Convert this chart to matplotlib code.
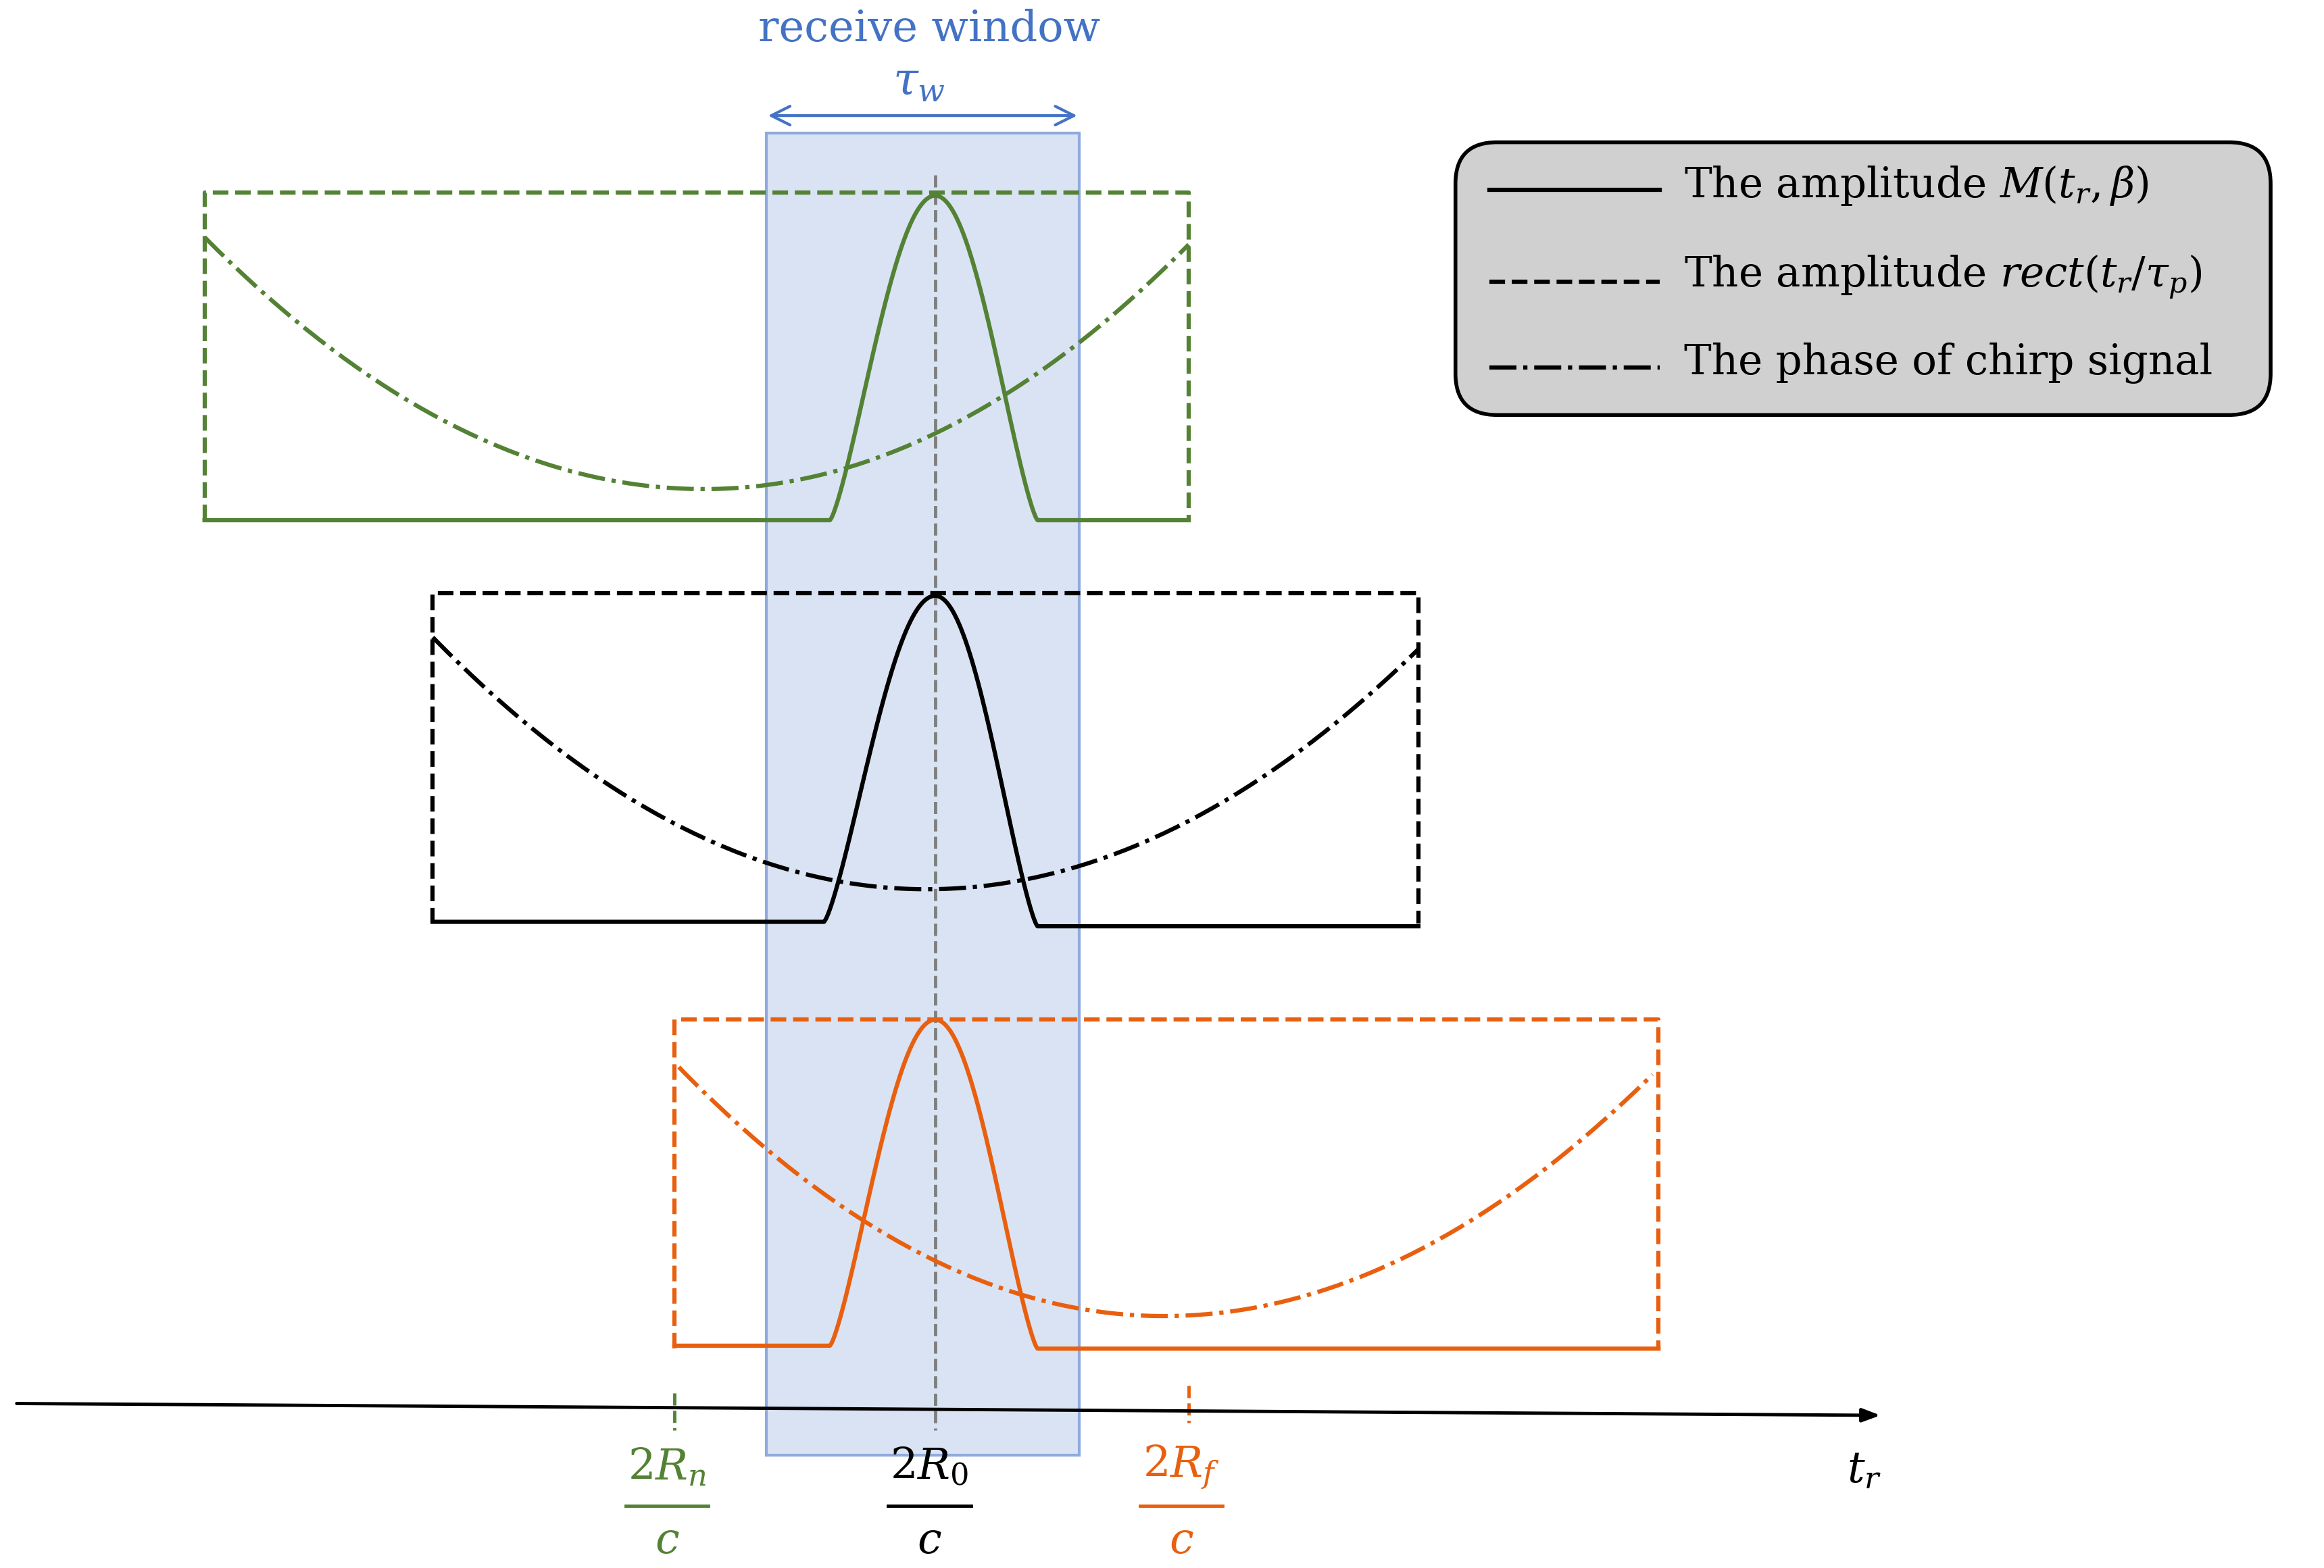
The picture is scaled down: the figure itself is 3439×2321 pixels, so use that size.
import matplotlib.pyplot as plt
import numpy as np
from matplotlib.patches import Rectangle, FancyBboxPatch

plt.rcParams['font.family'] = ['DejaVu Serif']
plt.rcParams['mathtext.fontset'] = 'dejavuserif'

# coordinates in image units (1568 x 1058 canvas, y downwards)
green = '#548235'
black = '#000000'
orange = '#e8600f'
blue = '#4472c4'

# each echo: colour, rect (x0, x1, ytop, ybottom), pulse points, phase points (left, min, right)
echo_colors = [green, black, orange]
rect_x0 = [138, 292, 455]
rect_x1 = [802, 957, 1119]
rect_top = [130, 400, 688]
rect_bot = [351, 623, 910]
base_left_y = [351, 622, 908]
base_right_y = [351, 625, 910]
pulse_start = [560, 556, 560]
pulse_end = [700, 700, 700]
pulse_peak_y = [132, 402, 688]
phase_left = [(138, 160), (292, 430), (458, 720)]
phase_min = [(475, 330), (625, 600), (785, 888)]
phase_right = [(802, 165), (957, 438), (1115, 725)]

peak_x = 631
window_x = (517, 728)
window_y = (90, 982)

legend_labels = [r'The amplitude $M(t_r,\beta)$',
                 r'The amplitude $rect(t_r/\tau_p)$',
                 'The phase of chirp signal']
legend_styles = ['-', '--', '-.']
legend_y = [128, 190, 248]

fig = plt.figure(figsize=(34.39, 23.21), dpi=100)
ax = fig.add_axes([0, 0, 1, 1])
ax.set_xlim(0, 1568)
ax.set_ylim(1058, 0)
ax.axis('off')

lw = 4.5

# receive window
ax.add_patch(Rectangle((window_x[0], window_y[0]), window_x[1] - window_x[0],
                       window_y[1] - window_y[0], facecolor='#dae3f3',
                       edgecolor='#8faadc', lw=3, zorder=1))
ax.annotate('', xy=(window_x[0], 78), xytext=(window_x[1], 78),
            arrowprops=dict(arrowstyle='<->,head_length=2,head_width=1', color=blue, lw=3))
ax.text(627, 20, 'receive window', color=blue, fontsize=46, ha='center', va='center')
ax.text(620, 55, r'$\tau_w$', color=blue, fontsize=48, ha='center', va='center')

for i, c in enumerate(echo_colors):
    x0, x1, yt, yb = rect_x0[i], rect_x1[i], rect_top[i], rect_bot[i]
    ax.plot([x0, x0, x1, x1], [yb, yt, yt, yb], ls='--', color=c, lw=lw, zorder=3)
    # pulse
    t = np.linspace(0, 1, 60)
    xs_up = pulse_start[i] + (peak_x - pulse_start[i]) * t
    ys_up = base_left_y[i] - (base_left_y[i] - pulse_peak_y[i]) * np.sin(t * np.pi / 2) ** 1.3
    xs_dn = peak_x + (pulse_end[i] - peak_x) * t
    ys_dn = base_right_y[i] - (base_right_y[i] - pulse_peak_y[i]) * np.cos(t * np.pi / 2) ** 1.3
    xs = np.concatenate([[x0], xs_up, xs_dn, [x1]])
    ys = np.concatenate([[base_left_y[i]], ys_up, ys_dn, [base_right_y[i]]])
    ax.plot(xs, ys, '-', color=c, lw=lw, zorder=3)
    # phase
    (lx, ly), (mx, my), (rx, ry) = phase_left[i], phase_min[i], phase_right[i]
    xl = np.linspace(lx, mx, 80)
    yl = my - (my - ly) * ((mx - xl) / (mx - lx)) ** 2
    xr = np.linspace(mx, rx, 80)
    yr = my - (my - ry) * ((xr - mx) / (rx - mx)) ** 2
    ax.plot(np.concatenate([xl, xr]), np.concatenate([yl, yr]), '-.', color=c, lw=lw, zorder=3)

ax.plot([peak_x, peak_x], [118, 965], '--', color='#7f7f7f', lw=3.5, zorder=2)

# time axis
ax.annotate('', xy=(1270, 955), xytext=(10, 947),
            arrowprops=dict(arrowstyle='-|>,head_length=1.6,head_width=0.6', color='black', lw=3.5))
ax.plot([455, 455], [940, 965], '--', color=green, lw=3.5)
ax.plot([802, 802], [935, 960], '--', color=orange, lw=3.5)
ax.text(1258, 992, r'$t_r$', fontsize=46, ha='center', va='center')

fracs = [(450, r'$2R_n$', green), (627, r'$2R_0$', black), (797, r'$2R_f$', orange)]
for x, num, c in fracs:
    ax.text(x, 990, num, color=c, fontsize=46, ha='center', va='center')
    ax.plot([x - 28, x + 28], [1016, 1016], color=c, lw=3.5)
    ax.text(x, 1040, r'$c$', color=c, fontsize=46, ha='center', va='center')

# legend
ax.add_patch(FancyBboxPatch((982, 96), 550, 184, boxstyle='round,pad=0,rounding_size=28',
                            facecolor='#d0d0d0', edgecolor='black', lw=4, zorder=4))
for y, lab, st in zip(legend_y, legend_labels, legend_styles):
    ax.plot([1005, 1120], [y, y], ls=st, color='black', lw=lw, zorder=5)
    ax.text(1136, y - 3, lab, fontsize=44, ha='left', va='center', zorder=5)

fig.savefig('out.png', dpi=100)
